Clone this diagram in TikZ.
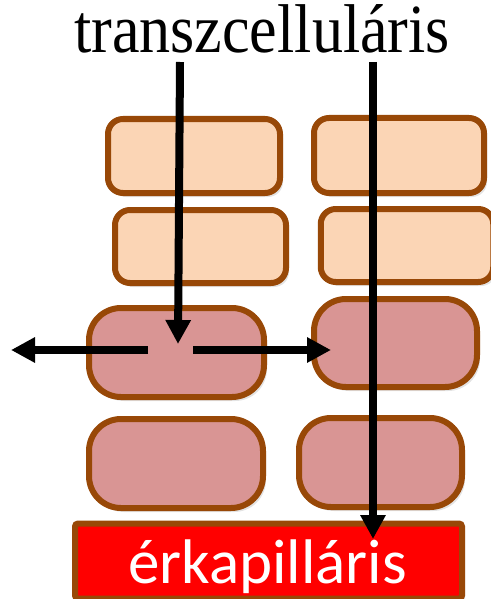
\documentclass[tikz,border=0pt]{standalone}
\usepackage{fontspec}
\setmainfont{Liberation Serif}
\newfontfamily\calfont{Carlito}
\usetikzlibrary{arrows.meta,shadows}
\definecolor{peach}{HTML}{FBD5B5}
\definecolor{rose}{HTML}{D99594}
\definecolor{rim}{HTML}{984807}
\tikzset{
  cellbox/.style={draw=rim, line width=6pt, inner sep=0pt, outer sep=0pt,
    drop shadow={opacity=0.22, shadow xshift=3pt, shadow yshift=-4pt}},
  flat/.style={cellbox, fill=peach, rounded corners=15pt},
  round/.style={cellbox, fill=rose, rounded corners=32pt},
  flow/.style={line width=8pt, -{Triangle[width=24pt,length=24pt]}}
}
\begin{document}
\begin{tikzpicture}[x=1pt,y=-1pt]
\useasboundingbox (0,0) rectangle (490,599);
% title
\node[anchor=base, font=\fontsize{69}{69}\selectfont, xscale=0.9, inner sep=0pt] (title) at (262,53) {transzcelluláris};
% row 1
\node[flat, minimum width=172pt, minimum height=74pt] (a1) at (194,156) {};
\node[flat, minimum width=170pt, minimum height=75pt] (b1) at (399,155.5) {};
% row 2
\node[flat, minimum width=171pt, minimum height=73pt] (a2) at (200.5,246.5) {};
\node[flat, minimum width=172.5pt, minimum height=73pt] (b2) at (407,245.5) {};
% row 3
\node[round, minimum width=175pt, minimum height=89pt] (a3) at (176.5,352.5) {};
\node[round, minimum width=163pt, minimum height=88pt] (b3) at (395.5,343) {};
% row 4
\node[round, minimum width=174pt, minimum height=89pt] (a4) at (176,463.5) {};
\node[round, minimum width=163pt, minimum height=89pt] (b4) at (380.5,462.5) {};
% capillary
\node[draw=rim, fill=red, line width=6pt, rounded corners=3pt, minimum width=387pt, minimum height=75pt, inner sep=0pt,
  drop shadow={opacity=0.22, shadow xshift=3pt, shadow yshift=-4pt}] (cap) at (268.5,561) {};
\node[anchor=base, font=\calfont\fontsize{63}{63}\selectfont, text=white, inner sep=0pt] (captext) at (267.5,583) {érkapilláris};
% arrow coordinates
\coordinate (s1) at (180,62);
\coordinate (e1) at (178,344);
\coordinate (s2) at (373,62);
\coordinate (e2) at (373,539);
\coordinate (hl) at (148,350);
\coordinate (el) at (11,350);
\coordinate (hr) at (193,350);
\coordinate (er) at (331,350);
\draw[flow] (s1) -- (e1);
\draw[flow] (s2) -- (e2);
\draw[flow] (hl) -- (el);
\draw[flow] (hr) -- (er);
\end{tikzpicture}
\end{document}
